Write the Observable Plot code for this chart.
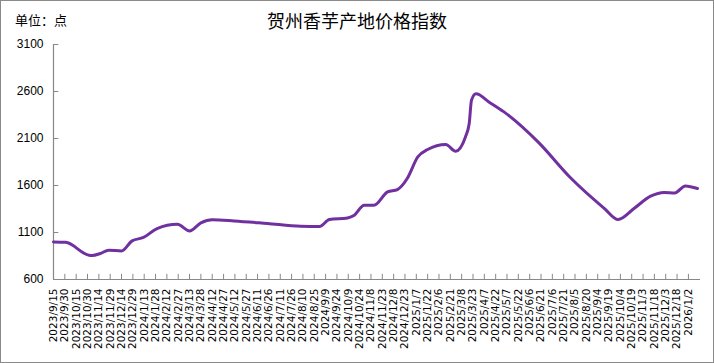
<!DOCTYPE html>
<html>
<head>
<meta charset="utf-8">
<script src="https://cdn.jsdelivr.net/npm/d3@7"></script>
<script src="https://cdn.jsdelivr.net/npm/@observablehq/plot@0.6"></script>
<style>
  html, body { margin: 0; padding: 0; background: #fff; }
  #wrap { position: relative; width: 714px; height: 363px; background: #fff; overflow: hidden; }
  #wrap svg { position: absolute; left: 0; top: 0; }
  #title { position: absolute; left: 0; width: 714px; top: 8px; text-align: center;
           font-family: "Noto Sans CJK SC", sans-serif; font-size: 18px; color: #000; line-height: 24px; }
  #unit { position: absolute; left: 15px; top: 11px; font-family: "Noto Sans CJK SC", sans-serif;
          font-size: 13px; color: #000; line-height: 18px; }
  #border { position: absolute; left: 0; top: 0; width: 714px; height: 363px; box-sizing: border-box;
            border: 1px solid #8a8a8a; pointer-events: none; }
  .xax text { font-family: "DejaVu Sans", sans-serif; }
</style>
</head>
<body>
<div id="wrap">
  <div id="title">贺州香芋产地价格指数</div>
  <div id="unit">单位：点</div>
  <div id="border"></div>
</div>
<script>
const dates = [
  "2023-09-15","2023-10-01","2023-11-01","2023-11-05","2023-11-16","2023-11-27","2023-12-14","2023-12-28",
  "2024-01-12","2024-01-30","2024-02-26","2024-03-13","2024-03-28","2024-04-12","2024-05-11","2024-06-24",
  "2024-08-07","2024-09-01","2024-09-14","2024-10-08","2024-10-17","2024-10-30","2024-11-12","2024-11-30",
  "2024-12-13","2024-12-26","2025-01-09","2025-01-22","2025-02-15","2025-02-28","2025-03-13","2025-03-18",
  "2025-03-21","2025-03-27","2025-04-13","2025-05-03","2025-06-17","2025-07-31","2025-09-13","2025-10-01",
  "2025-10-22","2025-11-13","2025-12-01","2025-12-15","2025-12-29","2026-01-14"
];
const values = [
  1000, 995, 858, 855, 877, 912, 904, 1011,
  1047, 1142, 1188, 1117, 1202, 1235, 1223, 1196,
  1167, 1165, 1238, 1255, 1284, 1390, 1390, 1532,
  1557, 1674, 1904, 1983, 2036, 1965, 2117, 2260,
  2507, 2575, 2489, 2383, 2064, 1674, 1355, 1238,
  1355, 1486, 1526, 1521, 1596, 1568
];
const xTickLabels = [
  "2023/9/15","2023/9/30","2023/10/15","2023/10/30","2023/11/14","2023/11/29","2023/12/14","2023/12/29",
  "2024/1/13","2024/1/28","2024/2/12","2024/2/27","2024/3/13","2024/3/28","2024/4/12","2024/4/27",
  "2024/5/12","2024/5/27","2024/6/11","2024/6/26","2024/7/11","2024/7/26","2024/8/10","2024/8/25",
  "2024/9/9","2024/9/24","2024/10/9","2024/10/24","2024/11/8","2024/11/23","2024/12/8","2024/12/23",
  "2025/1/7","2025/1/22","2025/2/6","2025/2/21","2025/3/8","2025/3/23","2025/4/7","2025/4/22",
  "2025/5/7","2025/5/22","2025/6/6","2025/6/21","2025/7/6","2025/7/21","2025/8/5","2025/8/20",
  "2025/9/4","2025/9/19","2025/10/4","2025/10/19","2025/11/3","2025/11/18","2025/12/3","2025/12/18",
  "2026/1/2"
];
const yTicks = [600, 1100, 1600, 2100, 2600, 3100];

const parseLabel = s => { const [y, m, d] = s.split("/").map(Number); return new Date(Date.UTC(y, m - 1, d)); };
const fmt = d => `${d.getUTCFullYear()}/${d.getUTCMonth() + 1}/${d.getUTCDate()}`;
const xTicks = xTickLabels.map(parseLabel);
const data = dates.map((s, i) => ({date: new Date(s + "T00:00:00Z"), value: values[i]}));
const xStart = xTicks[0];
const xEnd = new Date(Date.UTC(2026, 0, 18));

const chart = Plot.plot({
  width: 714,
  height: 363,
  marginLeft: 53,
  marginRight: 14,
  marginTop: 44,
  marginBottom: 84,
  style: {fontFamily: "'Liberation Sans', Arial, sans-serif", background: "transparent", color: "#000"},
  x: {type: "utc", domain: [xStart, xEnd]},
  y: {domain: [600, 3100]},
  marks: [
    Plot.axisX({ticks: xTicks, tickFormat: fmt, tickRotate: -90, tickSize: 0, tickPadding: 9,
                fontSize: 10.5, label: null, fill: "#000", className: "xax"}),
    Plot.axisY({ticks: yTicks, tickFormat: d => String(d), tickSize: 0, tickPadding: 10,
                fontSize: 12, label: null, fill: "#000"}),
    Plot.ruleX(xTicks, {y1: 600, y2: 655, stroke: "#888", strokeWidth: 1}),
    Plot.ruleY(yTicks, {x1: xStart, x2: d3.utcDay.offset(xStart, 7), stroke: "#888", strokeWidth: 1}),
    Plot.ruleX([xStart], {stroke: "#888", strokeWidth: 1.2}),
    Plot.ruleY([600], {stroke: "#888", strokeWidth: 1.2}),
    Plot.line(data, {x: "date", y: "value", stroke: "#7030A0", strokeWidth: 3, curve: "monotone-x"})
  ]
});
document.getElementById("wrap").insertBefore(chart, document.getElementById("title"));
</script>
</body>
</html>
